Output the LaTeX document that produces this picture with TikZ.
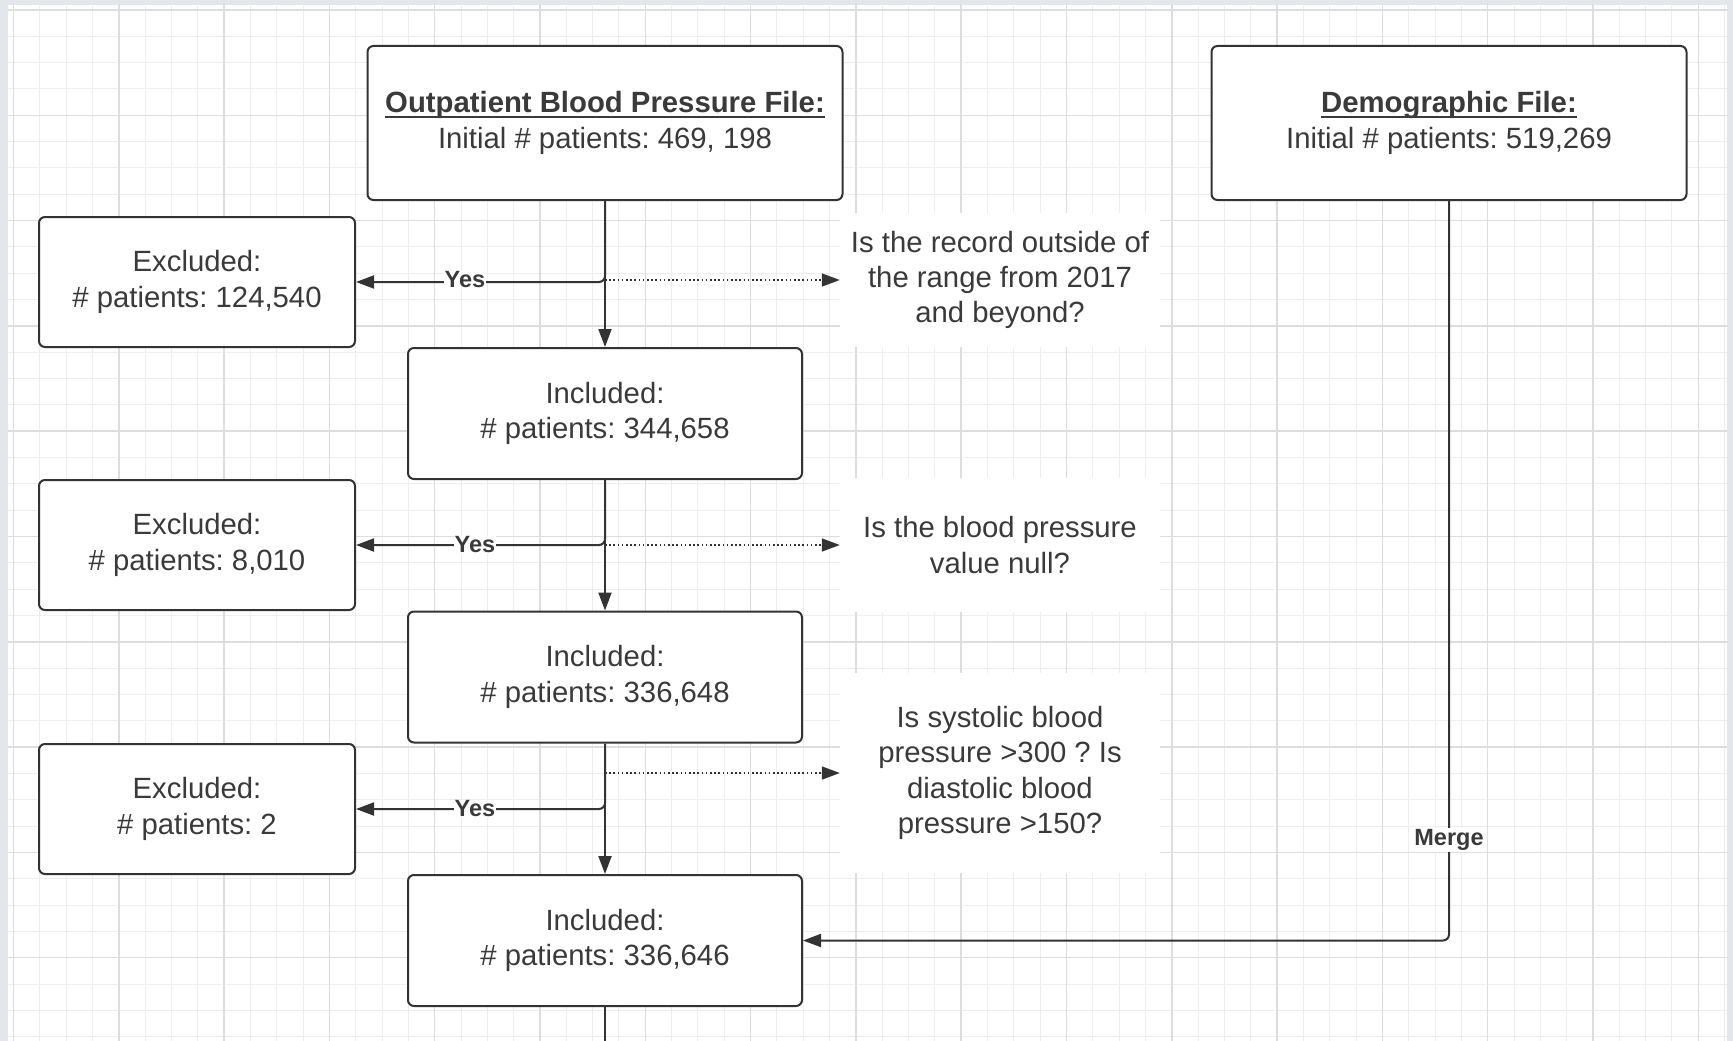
\documentclass[tikz,border=0pt]{standalone}
\usepackage{fontspec}
\setmainfont{Liberation Sans}
\usetikzlibrary{arrows.meta}
\definecolor{bordergray}{HTML}{E3E6EA}
\definecolor{gridmajor}{HTML}{DDDDDD}
\definecolor{gridminor}{HTML}{EEEEEE}
\definecolor{linec}{HTML}{333333}
\definecolor{textc}{HTML}{3A3A3A}
\newcommand\myul[1]{\setbox0\hbox{#1}\rlap{\rule[-0.16em]{\wd0}{0.07em}}\box0}
\frenchspacing
\begin{document}
\begin{tikzpicture}[x=1pt,y=-1pt,
  box/.style={draw=linec,line width=2pt,rounded corners=6pt,fill=white,text=textc,align=center,inner sep=0pt,font=\fontsize{29.3}{35.4}\selectfont},
  filebox/.style={box,minimum width=475pt,minimum height=154pt},
  exbox/.style={box,minimum width=316pt,minimum height=130pt},
  inbox/.style={box,minimum width=394pt,minimum height=131pt},
  qbox/.style={fill=white,text=textc,align=center,inner sep=0pt,minimum width=320pt,font=\fontsize{29.3}{35.4}\selectfont},
  conn/.style={draw=linec,line width=2pt,-{Triangle[length=18pt,width=13pt]}},
  yesline/.style={conn,rounded corners=6pt},
  dotarrow/.style={draw=linec,line width=1.6pt,dash pattern=on 1.6pt off 2.6pt,-{Triangle[length=18pt,width=13pt]}},
  lbl/.style={fill=white,text=textc,font=\fontsize{23.5}{27}\selectfont\bfseries,inner sep=1pt}]
\useasboundingbox (0,0) rectangle (1733,1041);
\fill[bordergray] (0,0) rectangle (1733,1041);
\fill[white] (8,5) rectangle (1727,1041);
\begin{scope}
\clip (8,5) rectangle (1727,1041);
\foreach \i in {-1,...,66} {\draw[gridminor,line width=1pt] ({13.5+26.325*\i},0) -- ++(0,1041);}
\foreach \i in {-1,...,40} {\draw[gridminor,line width=1pt] (0,{10+26.325*\i}) -- ++(1733,0);}
\foreach \i in {0,...,16} {\draw[gridmajor,line width=1.5pt] ({13.5+105.3*\i},0) -- ++(0,1041);}
\foreach \i in {0,...,9} {\draw[gridmajor,line width=1.5pt] (0,{10+105.3*\i}) -- ++(1733,0);}
\end{scope}

\node[filebox] (outp) at (605,123) {\myul{\textbf{Outpatient Blood Pressure File:}}\\Initial \# patients: 469, 198};
\node[filebox] (demo) at (1449,123) {\myul{\textbf{Demographic File:}}\\Initial \# patients: 519,269};
\node[exbox] (ex1) at (197,282) {Excluded:\\\# patients: 124,540};
\node[inbox] (in1) at (605,413.5) {Included:\\\# patients: 344,658};
\node[exbox] (ex2) at (197,545) {Excluded:\\\# patients: 8,010};
\node[inbox] (in2) at (605,677) {Included:\\\# patients: 336,648};
\node[exbox] (ex3) at (197,809) {Excluded:\\\# patients: 2};
\node[inbox] (in3) at (605,940.5) {Included:\\\# patients: 336,646};
\node[qbox,minimum height=134pt] (q1) at (1000,280) {Is the record outside of\\the range from 2017\\and beyond?};
\node[qbox,minimum height=134pt] (q2) at (1000,545) {Is the blood pressure\\value null?};
\node[qbox,minimum height=200pt] (q3) at (1000,773) {Is systolic blood\\pressure >300 ? Is\\diastolic blood\\pressure >150?};
\coordinate (bot) at (605,1041);

\draw[yesline] (outp.south) |- (ex1.east);
\draw[yesline] (in1.south) |- (ex2.east);
\draw[yesline] (in2.south) |- (ex3.east);
\draw[conn] (outp.south) -- (in1.north);
\draw[conn] (in1.south) -- (in2.north);
\draw[conn] (in2.south) -- (in3.north);
\draw[dotarrow] (outp.south |- q1.west) -- (q1.west);
\draw[dotarrow] (in1.south |- q2.west) -- (q2.west);
\draw[dotarrow] (in2.south |- q3.west) -- (q3.west);
\draw[yesline] (demo.south) |- (in3.east);
\draw[linec,line width=2pt] (in3.south) -- (bot);

\node[lbl] (yes1) at (465,280) {Yes};
\node[lbl] (yes2) at (475,545) {Yes};
\node[lbl] (yes3) at (475,809) {Yes};
\node[lbl] (merge) at (1449,840) {Merge};
\end{tikzpicture}
\end{document}
